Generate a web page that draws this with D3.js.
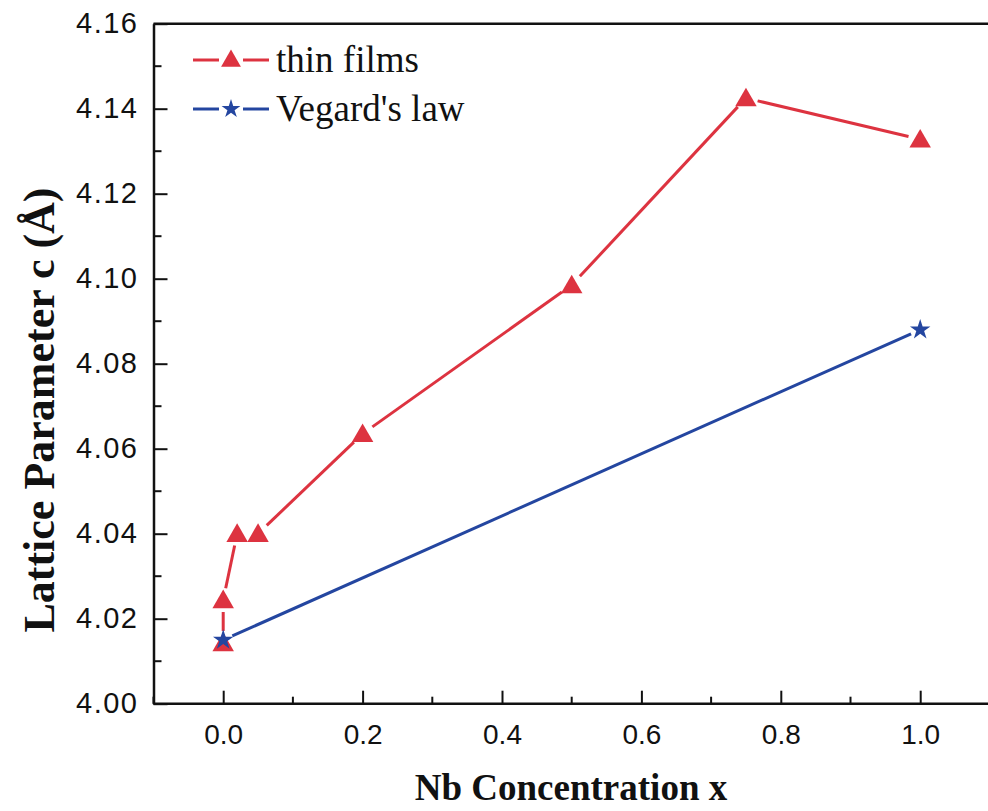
<!DOCTYPE html>
<html><head><meta charset="utf-8">
<script src="https://cdn.jsdelivr.net/npm/d3@7"></script>
<style>body{margin:0;background:#fff;} svg{display:block;}</style>
</head><body>
<svg id="c" width="988" height="811"></svg>
<script>
const filmX = [0.0, 0.0, 0.02, 0.05, 0.2, 0.5, 0.75, 1.0];
const filmY = [4.0143, 4.0244, 4.040, 4.040, 4.0635, 4.0985, 4.1425, 4.1328];
const vegX = [0.0, 1.0];
const vegY = [4.015, 4.088];
const xTicks = [0.0, 0.2, 0.4, 0.6, 0.8, 1.0];
const yTicks = [4.00, 4.02, 4.04, 4.06, 4.08, 4.10, 4.12, 4.14, 4.16];
const seriesNames = ["thin films", "Vegard's law"];

const RED = "#dd3340", BLUE = "#2446a0";
const svg = d3.select("#c");
const L = 153.5, R = 988, T = 23.7, B = 703.7;
const x = d3.scaleLinear().domain([-0.1, 1.1]).range([L, L + 1.2*697]);
const y = d3.scaleLinear().domain([4.00, 4.16]).range([B, T]);

// frame
svg.append("line").attr("x1", L).attr("x2", R).attr("y1", T).attr("y2", T).attr("stroke", "#111").attr("stroke-width", 2.5);
const xAxis = d3.axisBottom(x).tickValues(xTicks).tickFormat(d3.format(".1f")).tickSizeInner(-13).tickSizeOuter(0).tickPadding(20);
const gx = svg.append("g").attr("transform", `translate(0,${B})`).call(xAxis);
const yAxis = d3.axisLeft(y).tickValues(yTicks).tickFormat(d3.format(".2f")).tickSizeInner(-14).tickSizeOuter(0).tickPadding(15);
const gy = svg.append("g").attr("transform", `translate(${L},0)`).call(yAxis);
[gx, gy].forEach(g => {
  g.select(".domain").attr("stroke", "#111").attr("stroke-width", 2.5);
  g.selectAll(".tick line").attr("stroke", "#111").attr("stroke-width", 2);
  g.selectAll("text").attr("font-family", "Liberation Sans, Arial, sans-serif").attr("fill", "#111");
});
gx.selectAll("text").attr("font-size", 28);
gy.selectAll("text").attr("font-size", 29).attr("letter-spacing", 1.5);
gx.select(".domain").attr("d", `M${L},0H${R}`);
// minor ticks
const xMinor = d3.range(-0.1, 1.11, 0.2).map(v => +v.toFixed(2));
svg.append("g").selectAll("line").data(xMinor).join("line")
  .attr("x1", d => x(d)).attr("x2", d => x(d)).attr("y1", B).attr("y2", B - 7)
  .attr("stroke", "#111").attr("stroke-width", 2);
const yMinor = d3.range(4.01, 4.16, 0.02).map(v => +v.toFixed(3));
svg.append("g").selectAll("line").data(yMinor).join("line")
  .attr("x1", L).attr("x2", L + 8).attr("y1", d => y(d)).attr("y2", d => y(d))
  .attr("stroke", "#111").attr("stroke-width", 2);

// line with gaps around markers
function gappedSegments(pts, gap) {
  const segs = [];
  for (let i = 0; i < pts.length - 1; i++) {
    const [x1, y1] = pts[i], [x2, y2] = pts[i+1];
    const dx = x2 - x1, dy = y2 - y1, len = Math.hypot(dx, dy);
    if (len <= 2*gap) continue;
    const ux = dx/len, uy = dy/len;
    segs.push([x1 + ux*gap, y1 + uy*gap, x2 - ux*gap, y2 - uy*gap]);
  }
  return segs;
}
const filmPts = filmX.map((v, i) => [x(v), y(filmY[i])]);
const vegPts = vegX.map((v, i) => [x(v), y(vegY[i])]);

svg.append("g").selectAll("line").data(gappedSegments(vegPts, 10)).join("line")
  .attr("x1", d => d[0]).attr("y1", d => d[1]).attr("x2", d => d[2]).attr("y2", d => d[3])
  .attr("stroke", BLUE).attr("stroke-width", 3);
svg.append("g").selectAll("line").data(gappedSegments(filmPts, 12)).join("line")
  .attr("x1", d => d[0]).attr("y1", d => d[1]).attr("x2", d => d[2]).attr("y2", d => d[3])
  .attr("stroke", RED).attr("stroke-width", 3);

const tri = d3.symbol().type(d3.symbolTriangle).size(200);
const star = d3.symbol().type(d3.symbolStar).size(130);
svg.append("g").selectAll("path").data(filmPts).join("path")
  .attr("d", tri).attr("transform", d => `translate(${d[0]},${d[1]+2})`).attr("fill", RED);
svg.append("g").selectAll("path").data(vegPts).join("path")
  .attr("d", star).attr("transform", d => `translate(${d[0]},${d[1]})`).attr("fill", BLUE);

// legend
const legY = [60, 109];
const legColors = [RED, BLUE];
const legSyms = [d3.symbol().type(d3.symbolTriangle).size(170), d3.symbol().type(d3.symbolStar).size(110)];
seriesNames.forEach((name, i) => {
  const g = svg.append("g");
  g.append("line").attr("x1", 193).attr("x2", 219).attr("y1", legY[i]).attr("y2", legY[i]).attr("stroke", legColors[i]).attr("stroke-width", 3);
  g.append("line").attr("x1", 243).attr("x2", 269).attr("y1", legY[i]).attr("y2", legY[i]).attr("stroke", legColors[i]).attr("stroke-width", 3);
  g.append("path").attr("d", legSyms[i]).attr("transform", `translate(231,${legY[i]+ (i===0?1:0)})`).attr("fill", legColors[i]);
  g.append("text").attr("x", 276).attr("y", legY[i] + 12).text(name)
    .attr("font-family", "Liberation Serif, Times New Roman, serif").attr("font-size", 37).attr("fill", "#111");
});

// axis titles
svg.append("text").attr("x", 571).attr("y", 800).attr("text-anchor", "middle")
  .attr("font-family", "Liberation Serif, Times New Roman, serif").attr("font-weight", "bold").attr("font-size", 37)
  .attr("fill", "#111").text("Nb Concentration x");
svg.append("text").attr("transform", "translate(54,410) rotate(-90)").attr("text-anchor", "middle")
  .attr("font-family", "Liberation Serif, Times New Roman, serif").attr("font-weight", "bold").attr("font-size", 44)
  .attr("fill", "#111").text("Lattice Parameter c (Å)");
</script>
</body></html>
